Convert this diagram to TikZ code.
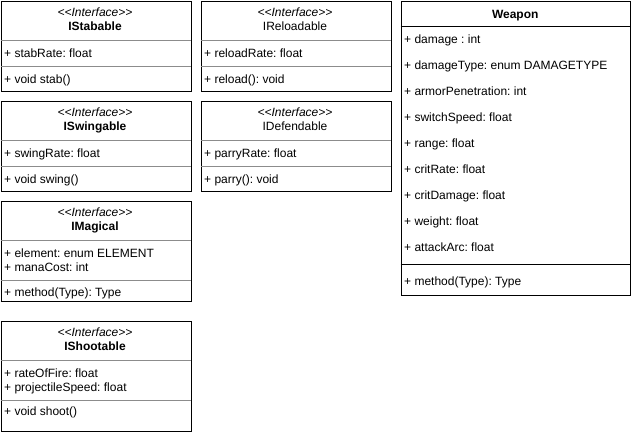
\documentclass[tikz,border=0pt]{standalone}
\usepackage{fontspec}
\setmainfont{Liberation Sans}
\frenchspacing
\newcommand{\stereotxt}{<\kern0pt<\kern0pt Interface>\kern0pt>}
\begin{document}
\begin{tikzpicture}[x=1pt,y=-1pt,
  box/.style={draw=black, line width=1.1pt, inner sep=0pt, anchor=north west, fill=white},
  div/.style={draw=black!45, line width=0.9pt},
  wdiv/.style={draw=black, line width=1.1pt},
  row/.style={anchor=base west, inner sep=0pt, font=\fontsize{12}{14}\selectfont},
  stereo/.style={anchor=base, inner sep=0pt, font=\fontsize{12}{14}\selectfont\itshape},
  title/.style={anchor=base, inner sep=0pt, font=\fontsize{12}{14}\selectfont\bfseries},
  plaintitle/.style={anchor=base, inner sep=0pt, font=\fontsize{12}{14}\selectfont}]
\useasboundingbox (0,0) rectangle (631,431);

% ---------- IStabable ----------
\node[box, minimum width=190pt, minimum height=90pt] (stab) at (0.5,0.5) {};
\node[stereo] (stabS) at (95,16.5) {\stereotxt};
\node[title] (stabT) at (95,30.5) {IStabable};
\draw[div] (0.5,40.5) -- (190.5,40.5);
\node[row] (stabA) at (4,57) {+ stabRate: float};
\draw[div] (0.5,66.5) -- (190.5,66.5);
\node[row] (stabM) at (4,83) {+ void stab()};

% ---------- IReloadable ----------
\node[box, minimum width=190pt, minimum height=90pt] (reload) at (200.5,0.5) {};
\node[stereo] (reloadS) at (295,16.5) {\stereotxt};
\node[plaintitle] (reloadT) at (295,30.5) {IReloadable};
\draw[div] (200.5,40.5) -- (390.5,40.5);
\node[row] (reloadA) at (204,57) {+ reloadRate: float};
\draw[div] (200.5,66.5) -- (390.5,66.5);
\node[row] (reloadM) at (204,83) {+ reload(): void};

% ---------- ISwingable ----------
\node[box, minimum width=190pt, minimum height=90pt] (swing) at (0.5,100.5) {};
\node[stereo] (swingS) at (95,116.5) {\stereotxt};
\node[title] (swingT) at (95,130.5) {ISwingable};
\draw[div] (0.5,140.5) -- (190.5,140.5);
\node[row] (swingA) at (4,157) {+ swingRate: float};
\draw[div] (0.5,166.5) -- (190.5,166.5);
\node[row] (swingM) at (4,183) {+ void swing()};

% ---------- IDefendable ----------
\node[box, minimum width=190pt, minimum height=90pt] (defend) at (200.5,100.5) {};
\node[stereo] (defendS) at (295,116.5) {\stereotxt};
\node[plaintitle] (defendT) at (295,130.5) {IDefendable};
\draw[div] (200.5,140.5) -- (390.5,140.5);
\node[row] (defendA) at (204,157) {+ parryRate: float};
\draw[div] (200.5,166.5) -- (390.5,166.5);
\node[row] (defendM) at (204,183) {+ parry(): void};

% ---------- IMagical ----------
\node[box, minimum width=190pt, minimum height=100pt] (magic) at (0.5,200.5) {};
\node[stereo] (magicS) at (95,216.5) {\stereotxt};
\node[title] (magicT) at (95,230.5) {IMagical};
\draw[div] (0.5,240.5) -- (190.5,240.5);
\node[row] (magicA1) at (4,257) {+ element: enum ELEMENT};
\node[row] (magicA2) at (4,271) {+ manaCost: int};
\draw[div] (0.5,280.5) -- (190.5,280.5);
\node[row] (magicM) at (4,296) {+ method(Type): Type};
\draw[line width=1.1pt] (magic.south west) -- (magic.south east);

% ---------- IShootable ----------
\node[box, minimum width=190pt, minimum height=110pt] (shoot) at (0.5,320.5) {};
\node[stereo] (shootS) at (95,336.5) {\stereotxt};
\node[title] (shootT) at (95,350.5) {IShootable};
\draw[div] (0.5,360.5) -- (190.5,360.5);
\node[row] (shootA1) at (4,377) {+ rateOfFire: float};
\node[row] (shootA2) at (4,391) {+ projectileSpeed: float};
\draw[div] (0.5,400.5) -- (190.5,400.5);
\node[row] (shootM) at (4,415.5) {+ void shoot()};

% ---------- Weapon ----------
\node[box, minimum width=229.5pt, minimum height=294pt] (weapon) at (400.5,0.5) {};
\node[title] (weaponT) at (515.25,18) {Weapon};
\draw[wdiv] (400.5,26.5) -- (630,26.5);
\node[row] (w1) at (404,43.5) {+ damage : int};
\node[row] (w2) at (404,69.5) {+ damageType: enum DAMAGETYPE};
\node[row] (w3) at (404,95.5) {+ armorPenetration: int};
\node[row] (w4) at (404,121.5) {+ switchSpeed: float};
\node[row] (w5) at (404,147.5) {+ range: float};
\node[row] (w6) at (404,173.5) {+ critRate: float};
\node[row] (w7) at (404,199.5) {+ critDamage: float};
\node[row] (w8) at (404,225.5) {+ weight: float};
\node[row] (w9) at (404,251.5) {+ attackArc: float};
\draw[wdiv] (400.5,264.5) -- (630,264.5);
\node[row] (wm) at (404,285) {+ method(Type): Type};
\end{tikzpicture}
\end{document}
